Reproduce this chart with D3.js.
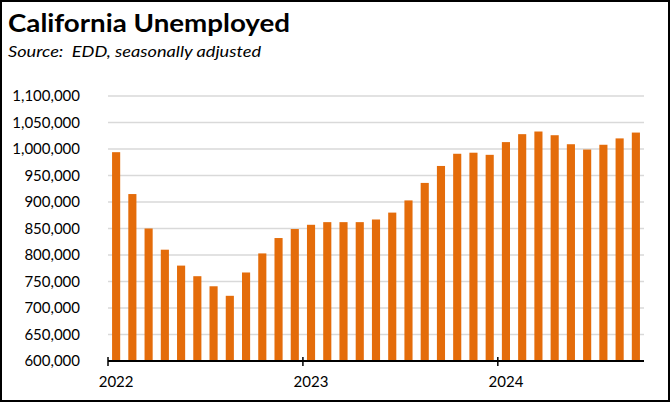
<!DOCTYPE html>
<html><head><meta charset="utf-8">
<script src="https://cdn.jsdelivr.net/npm/d3@7"></script>
<style>html,body{margin:0;padding:0;background:#fff;}svg{display:block;}</style>
</head><body>
<script>
const months = [
 "2022-01","2022-02","2022-03","2022-04","2022-05","2022-06","2022-07","2022-08","2022-09","2022-10","2022-11","2022-12",
 "2023-01","2023-02","2023-03","2023-04","2023-05","2023-06","2023-07","2023-08","2023-09","2023-10","2023-11","2023-12",
 "2024-01","2024-02","2024-03","2024-04","2024-05","2024-06","2024-07","2024-08","2024-09"];
const unemployed = [
 994000,915000,850000,810000,780000,760000,741000,723000,767000,803000,832000,849000,
 857000,862000,862000,862000,867000,880000,903000,936000,968000,991000,993000,989000,
 1013000,1028000,1033000,1026000,1009000,999000,1008000,1020000,1031000];
const yTicks = [600000,650000,700000,750000,800000,850000,900000,950000,1000000,1050000,1100000];
const yearLabels = ["2022","2023","2024"];

const W=671,H=403;
const svg=d3.select("body").append("svg").attr("width",W).attr("height",H);
svg.append("rect").attr("x",1).attr("y",1).attr("width",W-3).attr("height",H-3)
  .attr("fill","#fff").attr("stroke","#000").attr("stroke-width",2);

const font="Lato, 'Noto Sans', sans-serif";
svg.append("text").attr("x",8).attr("y",32).text("California Unemployed")
  .attr("font-family",font).attr("font-weight","bold").attr("font-size",25).attr("fill","#000")
  .attr("textLength",282).attr("lengthAdjust","spacingAndGlyphs");
svg.append("text").attr("x",8).attr("y",57).text("Source:  EDD, seasonally adjusted")
  .style("white-space","pre")
  .attr("font-family",font).attr("font-style","italic").attr("font-size",16).attr("fill","#000")
  .attr("textLength",253).attr("lengthAdjust","spacingAndGlyphs");

const x=d3.scaleBand().domain(months).range([108,644]).paddingInner(0.5).paddingOuter(0.25);
const y=d3.scaleLinear().domain([600000,1100000]).range([361,96]);

// gridlines
svg.append("g").selectAll("line").data(yTicks.slice(1)).join("line")
  .attr("x1",108).attr("x2",644).attr("y1",d=>y(d)).attr("y2",d=>y(d))
  .attr("stroke","#d9d9d9").attr("stroke-width",1.5);

// y labels
const yAxis=d3.axisLeft(y).tickValues(yTicks).tickFormat(d3.format(",")).tickSize(0).tickPadding(0);
const gy=svg.append("g").attr("transform","translate(80,0)").call(yAxis);
gy.select(".domain").remove();
gy.selectAll("text").attr("font-family",font).attr("font-size",15).attr("fill","#000");

// bars
svg.append("g").selectAll("rect").data(unemployed).join("rect")
  .attr("x",(d,i)=>x(months[i])).attr("width",x.bandwidth())
  .attr("y",d=>y(d)).attr("height",d=>y(600000)-y(d))
  .attr("fill","#E46C0A");

// x axis
svg.append("line").attr("x1",108).attr("x2",644).attr("y1",361).attr("y2",361)
  .attr("stroke","#000").attr("stroke-width",2);
const yearStarts=yearLabels.map(yl=>months.indexOf(yl+"-01"));
svg.append("g").selectAll("line").data(yearStarts).join("line")
  .attr("x1",i=>x(months[i])-x.bandwidth()/2).attr("x2",i=>x(months[i])-x.bandwidth()/2)
  .attr("y1",357).attr("y2",366).attr("stroke","#000").attr("stroke-width",1.5);
svg.append("g").selectAll("text").data(yearLabels).join("text")
  .attr("x",(d,k)=>x(months[yearStarts[k]])+x.bandwidth()/2).attr("y",387)
  .attr("text-anchor","middle").text(d=>d)
  .attr("font-family",font).attr("font-size",15).attr("fill","#000");
</script>
</body></html>
